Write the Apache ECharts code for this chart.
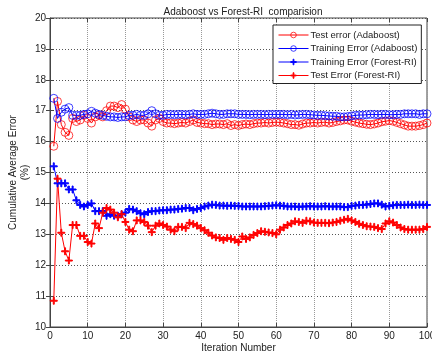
<!DOCTYPE html>
<html><head><meta charset="utf-8">
<script src="https://cdn.jsdelivr.net/npm/echarts@6/dist/echarts.min.js"></script>
<style>html,body{margin:0;padding:0;background:#fff}#c{width:432px;height:356px}</style>
</head><body><div id="c"></div>
<script>
const iterations = Array.from({length:100},(_,i)=>i+1);
const xTicks = [0,10,20,30,40,50,60,70,80,90,100];
const yTicks = [10,11,12,13,14,15,16,17,18,19,20];
const seriesNames = ["Test error (Adaboost)","Training Error (Adaboost)","Training Error (Forest-RI)","Test Error (Forest-RI)"];
const adaTest = [15.85,17.3,16.55,16.3,16.2,16.75,16.65,16.7,16.85,16.75,
16.6,16.8,16.85,16.8,17.0,17.15,17.15,17.1,17.2,17.05,
16.8,16.7,16.65,16.7,16.7,16.6,16.5,16.7,16.75,16.65,
16.6,16.6,16.58,16.6,16.62,16.6,16.65,16.7,16.62,16.6,
16.58,16.58,16.55,16.57,16.57,16.55,16.58,16.52,16.55,16.52,
16.55,16.57,16.55,16.58,16.6,16.6,16.62,16.6,16.62,16.63,
16.62,16.6,16.58,16.55,16.55,16.53,16.57,16.6,16.6,16.62,
16.6,16.62,16.63,16.6,16.62,16.65,16.67,16.7,16.7,16.66,
16.63,16.6,16.58,16.56,16.55,16.57,16.6,16.64,16.66,16.68,
16.66,16.62,16.58,16.54,16.5,16.5,16.5,16.52,16.55,16.6];
const adaTrain = [17.4,16.75,16.95,17.05,17.1,16.85,16.85,16.85,16.88,16.9,
16.98,16.92,16.88,16.85,16.82,16.8,16.8,16.78,16.8,16.8,
16.85,16.85,16.88,16.85,16.85,16.9,17.0,16.9,16.85,16.85,
16.88,16.88,16.87,16.88,16.88,16.87,16.88,16.9,16.88,16.88,
16.88,16.9,16.92,16.9,16.88,16.88,16.9,16.9,16.9,16.88,
16.88,16.88,16.87,16.88,16.88,16.88,16.87,16.88,16.88,16.88,
16.88,16.88,16.87,16.88,16.86,16.87,16.88,16.88,16.87,16.86,
16.85,16.85,16.84,16.83,16.82,16.82,16.8,16.8,16.81,16.83,
16.85,16.86,16.86,16.87,16.88,16.88,16.87,16.88,16.88,16.87,
16.87,16.88,16.88,16.9,16.9,16.9,16.9,16.88,16.9,16.9];
const forestTrain = [15.2,14.65,14.65,14.65,14.45,14.45,14.1,13.95,13.9,13.95,
14.0,13.75,13.75,13.75,13.6,13.65,13.6,13.6,13.65,13.7,
13.82,13.8,13.75,13.68,13.65,13.72,13.75,13.75,13.77,13.78,
13.78,13.8,13.8,13.82,13.83,13.85,13.85,13.78,13.82,13.85,
13.9,13.93,13.96,13.95,13.93,13.93,13.92,13.93,13.92,13.92,
13.9,13.9,13.9,13.9,13.9,13.9,13.91,13.92,13.93,13.94,
13.93,13.92,13.9,13.9,13.9,13.89,13.9,13.9,13.91,13.9,
13.9,13.9,13.91,13.9,13.9,13.9,13.9,13.88,13.88,13.92,
13.93,13.95,13.95,13.96,13.98,14.0,14.0,13.96,13.9,13.92,
13.94,13.95,13.95,13.95,13.96,13.95,13.95,13.96,13.95,13.95];
const forestTest = [10.85,14.8,13.05,12.45,12.15,13.3,13.3,12.95,12.95,12.75,
12.7,13.35,13.2,13.7,13.85,13.8,13.7,13.55,13.65,13.4,
13.15,13.1,13.45,13.45,13.4,13.28,13.07,13.28,13.35,13.3,
13.25,13.15,13.1,13.24,13.24,13.2,13.37,13.33,13.28,13.2,
13.13,13.05,12.96,12.9,12.88,12.82,12.88,12.85,12.82,12.75,
12.93,12.85,12.9,12.98,13.04,13.1,13.08,13.06,13.04,13.0,
13.15,13.22,13.3,13.35,13.42,13.4,13.37,13.44,13.42,13.38,
13.37,13.37,13.37,13.36,13.38,13.4,13.44,13.47,13.5,13.45,
13.4,13.34,13.3,13.26,13.25,13.24,13.2,13.17,13.35,13.42,
13.38,13.3,13.22,13.17,13.15,13.15,13.15,13.15,13.17,13.24];

const plus = 'path://M4.3,0H5.7V4.3H10V5.7H5.7V10H4.3V5.7H0V4.3H4.3Z';
const pair = arr => iterations.map((x,i)=>[x,arr[i]]);
const font = 'Liberation Sans, Arial, sans-serif';
const mk = (name, arr, color, fill, stroke, sym, size) => ({
  name, type:'line', data: pair(arr), symbol: sym, symbolSize: size, showAllSymbol: true,
  lineStyle:{color, width:1}, itemStyle:{color: fill, borderColor: stroke, borderWidth:1},
  emphasis:{disabled:true}, animation:false
});
const chart = echarts.init(document.getElementById('c'), null, {renderer:'canvas'});
const axisBase = { min:0, max:100, interval:10, type:'value' };
chart.setOption({
  animation:false,
  textStyle:{fontFamily:font},
  title:{text:'Adaboost vs Forest-RI  comparision', left:238, top:2, textAlign:'center',
    textStyle:{fontSize:10, fontWeight:'normal', color:'#222', fontFamily:font}},
  legend:{orient:'vertical', left:273, top:25, backgroundColor:'#fff', borderColor:'#222', borderWidth:1,
    padding:[5,4,3,5], itemGap:3.5, itemWidth:30, itemHeight:7,
    lineStyle:{width:1}, itemStyle:{borderWidth:1},
    textStyle:{fontSize:9.5, color:'#222', fontFamily:font, padding:[0,0,0,-3]},
    data: seriesNames},
  grid:{left:50, right:5, top:18, bottom:29, show:true, borderColor:'#444', borderWidth:1, outerBoundsMode:'none', containLabel:false},
  xAxis:[{...axisBase, position:'bottom',
    name:'Iteration Number', nameLocation:'middle', nameGap:16, nameMoveOverlap:false,
    nameTextStyle:{fontSize:10, color:'#222'},
    axisLine:{show:true, lineStyle:{color:'#444'}},
    axisTick:{show:true, inside:true, length:4, lineStyle:{color:'#444'}},
    axisLabel:{fontSize:10, color:'#222', margin:4,
      formatter: v => xTicks.includes(v) ? String(v) : ''},
    splitLine:{show:true, lineStyle:{color:'#999', type:[1,1], width:1}}},
   {...axisBase, position:'top', axisLine:{show:false}, axisLabel:{show:false},
    axisTick:{show:true, inside:true, length:4, lineStyle:{color:'#444'}}, splitLine:{show:false}}],
  yAxis:[{type:'value', min:10, max:20, interval:1, position:'left',
    name:'Cumulative Average Error\n(%)', nameLocation:'middle', nameGap:19, nameRotate:90, nameMoveOverlap:false,
    nameTextStyle:{fontSize:10, color:'#222', lineHeight:12},
    axisLine:{show:true, lineStyle:{color:'#444'}},
    axisTick:{show:true, inside:true, length:4, lineStyle:{color:'#444'}},
    axisLabel:{fontSize:10, color:'#222', margin:4,
      formatter: v => yTicks.includes(v) ? String(v) : ''},
    splitLine:{show:true, lineStyle:{color:'#555', type:[1,2], width:1}}},
   {type:'value', min:10, max:20, interval:1, position:'right', axisLine:{show:false}, axisLabel:{show:false},
    axisTick:{show:true, inside:true, length:4, lineStyle:{color:'#444'}}, splitLine:{show:false}}],
  series:[
    mk(seriesNames[0], adaTest, '#ff0000', 'rgba(0,0,0,0)', 'rgba(255,0,0,0.75)', 'circle', 8),
    mk(seriesNames[1], adaTrain, '#0000ff', 'rgba(0,0,0,0)', 'rgba(0,0,255,0.75)', 'circle', 8),
    mk(seriesNames[2], forestTrain, '#0000ff', '#0000ff', '#0000ff', plus, 7),
    mk(seriesNames[3], forestTest, '#ff0000', '#ff0000', '#ff0000', plus, 7)
  ]
});
</script></body></html>
